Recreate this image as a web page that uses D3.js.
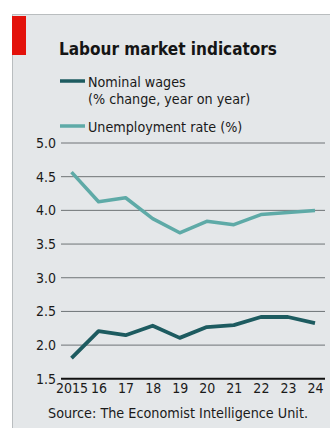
<!DOCTYPE html>
<html>
<head>
<meta charset="utf-8">
<script src="https://cdn.jsdelivr.net/npm/d3@7"></script>
<style>
  html, body { margin: 0; padding: 0; background: #ffffff; }
  svg { display: block; }
  text { font-family: "Liberation Sans Narrow", "DejaVu Sans Condensed", "Roboto Condensed", sans-serif; }
</style>
</head>
<body>
<svg id="chart" width="330" height="428"></svg>
<script>
// Labour market indicators, 2015-2024
const years = [2015, 2016, 2017, 2018, 2019, 2020, 2021, 2022, 2023, 2024];
const yearLabels = ["2015", "16", "17", "18", "19", "20", "21", "22", "23", "24"];
const nominalWages = [1.80, 2.20, 2.14, 2.28, 2.10, 2.26, 2.29, 2.41, 2.41, 2.32];
const unemploymentRate = [4.56, 4.12, 4.18, 3.87, 3.66, 3.83, 3.78, 3.93, 3.96, 3.99];
const yTicks = [1.5, 2.0, 2.5, 3.0, 3.5, 4.0, 4.5, 5.0];

const colors = { wages: "#1d5b60", unemployment: "#5eaaa7" };
const fontStack = "\"Liberation Sans Narrow\", \"DejaVu Sans Condensed\", sans-serif";

const svg = d3.select("#chart");

// panel background
svg.append("rect").attr("x", 12).attr("y", 14).attr("width", 318).attr("height", 414)
  .attr("fill", "#e4e7e9");
svg.append("line").attr("x1", 12).attr("x2", 330).attr("y1", 14.5).attr("y2", 14.5)
  .attr("stroke", "#b9bdbf").attr("stroke-width", 1);
svg.append("line").attr("x1", 12.5).attr("x2", 12.5).attr("y1", 14).attr("y2", 428)
  .attr("stroke", "#b9bdbf").attr("stroke-width", 1);

// red tag
svg.append("rect").attr("x", 12).attr("y", 16).attr("width", 14).attr("height", 39).attr("fill", "#e3120b");

// title
svg.append("text").attr("x", 59).attr("y", 55)
  .attr("font-size", 17).attr("font-weight", "bold").attr("fill", "#151515")
  .text("Labour market indicators");

// legend
const legend = [
  { key: "wages", lines: ["Nominal wages", "(% change, year on year)"], y: 81 },
  { key: "unemployment", lines: ["Unemployment rate (%)"], y: 126 }
];
legend.forEach(d => {
  svg.append("line").attr("x1", 60).attr("x2", 85).attr("y1", d.y).attr("y2", d.y)
    .attr("stroke", colors[d.key]).attr("stroke-width", 3.5);
  d.lines.forEach((t, i) => {
    svg.append("text").attr("x", 88).attr("y", d.y + 6 + i * 17)
      .attr("font-size", 14.2).attr("fill", "#1a1a1a").text(t);
  });
});

// scales
const x = d3.scaleLinear().domain([2015, 2024]).range([71.5, 315]);
const y = d3.scaleLinear().domain([1.5, 5.0]).range([378.3, 142.5]);

// gridlines and y labels
const yAxis = d3.axisLeft(y).tickValues(yTicks).tickFormat(d3.format(".1f")).tickSize(-264).tickPadding(5);
const gy = svg.append("g").attr("transform", "translate(61,0)").call(yAxis);
gy.select(".domain").remove();
gy.selectAll(".tick line").attr("stroke", d => d === 1.5 ? "#111" : "#6e7376")
  .attr("stroke-width", d => d === 1.5 ? 2 : 1);
gy.selectAll(".tick text").attr("font-size", 14).attr("fill", "#1a1a1a")
  .style("font-family", fontStack)
  .attr("dy", "0.36em");

// x labels
const xAxis = d3.axisBottom(x).tickValues(years).tickFormat((d, i) => yearLabels[i]).tickSize(0).tickPadding(4);
const gx = svg.append("g").attr("transform", "translate(0,379)").call(xAxis);
gx.select(".domain").remove();
gx.selectAll(".tick text").attr("font-size", 14).attr("fill", "#1a1a1a")
  .style("font-family", fontStack);

// series lines
const line = d3.line().x((d, i) => x(years[i])).y(d => y(d));
svg.append("path").datum(unemploymentRate).attr("d", line)
  .attr("fill", "none").attr("stroke", colors.unemployment).attr("stroke-width", 3.5)
  .attr("stroke-linejoin", "round");
svg.append("path").datum(nominalWages).attr("d", line)
  .attr("fill", "none").attr("stroke", colors.wages).attr("stroke-width", 3.8)
  .attr("stroke-linejoin", "round");

// source
svg.append("text").attr("x", 48).attr("y", 418)
  .attr("font-size", 13.5).attr("fill", "#1a1a1a")
  .attr("textLength", 260).attr("lengthAdjust", "spacingAndGlyphs")
  .text("Source: The Economist Intelligence Unit.");
</script>
</body>
</html>
